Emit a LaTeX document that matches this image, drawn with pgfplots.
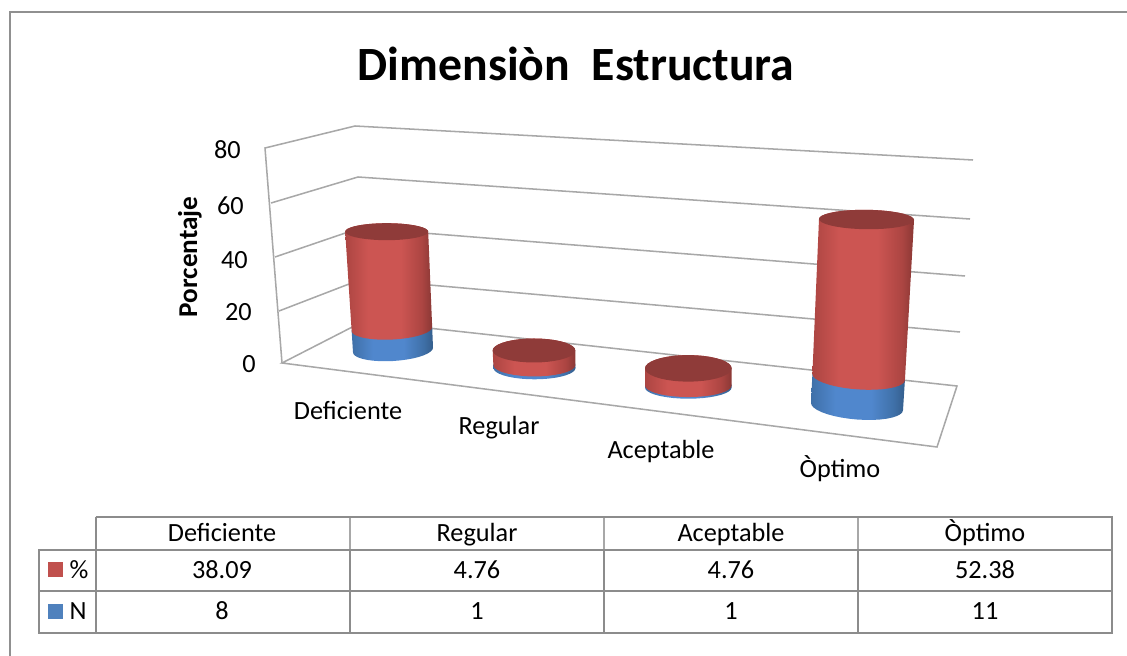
\documentclass[border=0pt]{standalone}
\usepackage{pgfplots}
\usepackage{pgfplotstable}
\usepackage{fontspec}
\pgfplotsset{compat=1.18}
\setmainfont{Carlito}

\definecolor{gridgray}{HTML}{A8A8A8}
\definecolor{rulegray}{HTML}{8C8C8C}
\definecolor{headgray}{HTML}{A8A8A8}
\definecolor{framegray}{HTML}{909090}
\definecolor{redL}{HTML}{AC4542}
\definecolor{redM}{HTML}{CC5552}
\definecolor{redR}{HTML}{8A3835}
\definecolor{redCap}{HTML}{8F3B39}
\definecolor{redKey}{HTML}{C0504D}
\definecolor{bluL}{HTML}{3F70A8}
\definecolor{bluM}{HTML}{5087CD}
\definecolor{bluR}{HTML}{345E8C}
\definecolor{bluKey}{HTML}{4F81BD}

% Wall shading across a cylinder: the path's width spans 25bp to 75bp
\pgfdeclarehorizontalshading{wallred}{100bp}{color(0bp)=(redL); color(25bp)=(redL); color(38bp)=(redM); color(57bp)=(redM); color(69bp)=(redL); color(75bp)=(redR); color(100bp)=(redR)}
\pgfdeclarehorizontalshading{wallblue}{100bp}{color(0bp)=(bluL); color(25bp)=(bluL); color(38bp)=(bluM); color(57bp)=(bluM); color(69bp)=(bluL); color(75bp)=(bluR); color(100bp)=(bluR)}

% Outline of a cylinder section: front arc at the lower level (k=0),
% back arc at the upper level (k=1).
\pgfplotstableread{
u v k
-1.000 0.000 0
-0.985 0.174 0
-0.940 0.342 0
-0.866 0.500 0
-0.766 0.643 0
-0.643 0.766 0
-0.500 0.866 0
-0.342 0.940 0
-0.174 0.985 0
0.000 1.000 0
0.174 0.985 0
0.342 0.940 0
0.500 0.866 0
0.643 0.766 0
0.766 0.643 0
0.866 0.500 0
0.940 0.342 0
0.985 0.174 0
1.000 0.000 0
1.000 0.000 1
0.985 -0.174 1
0.940 -0.342 1
0.866 -0.500 1
0.766 -0.643 1
0.643 -0.766 1
0.500 -0.866 1
0.342 -0.940 1
0.174 -0.985 1
0.000 -1.000 1
-0.174 -0.985 1
-0.342 -0.940 1
-0.500 -0.866 1
-0.643 -0.766 1
-0.766 -0.643 1
-0.866 -0.500 1
-0.940 -0.342 1
-0.985 -0.174 1
-1.000 0.000 1
}\outline

% Projection of a cylinder: base centre, radii, tilt and their change per unit
\newcommand\setbase[5]{\def\Cx{#1}\def\Cy{#2}\def\Rx{#3}\def\Ry{#4}\def\Tilt{#5}}
\newcommand\setrate[6]{\def\Dcx{#1}\def\Drx{#2}\def\Dry{#3}\def\Dtilt{#4}\def\Sn{#5}\def\Sp{#6}}

% One part from value #2 up by #3; #1 are the fill options, #4 is 1 for
% a wall and 0 for a flat cap at the level #2
\newcommand\cylpart[4]{%
  \def\Lev{((#2)+(#3)*(#4)*\thisrow{k})}%
  \addplot[draw=none,#1] table[
    x expr={\Cx+\Dcx*\Lev+(\Rx+\Drx*\Lev)*\thisrow{u}},
    y expr={\Cy-\Sn*min(\Lev,\Nval)-\Sp*max(\Lev-\Nval,0)+(\Ry+\Dry*\Lev)*\thisrow{v}+(\Tilt+\Dtilt*\Lev)*\thisrow{u}}
  ] {\outline};
}
% A stacked cylinder: N below, % above
\newcommand\cylinder[2]{%
  \def\Nval{#1}%
  \cylpart{shading=wallblue}{0}{#1}{1}
  \cylpart{shading=wallred}{#1}{#2}{1}
  \cylpart{fill=redCap}{#1+#2}{0}{0}
}

% Labels share one line box, so they sit level whatever their letters
\tikzset{lab/.style={font=\fontsize{19.7pt}{22pt}\selectfont,text=black,inner sep=0pt,text height=14.6pt,text depth=2pt}}

\begin{document}
\begin{tikzpicture}[x=0.75pt,y=0.75pt]
\path[use as bounding box] (0,0) rectangle (1127,656);
\begin{axis}[
  at={(0,0)},anchor=south west,
  scale only axis,width=845.25pt,height=492pt,
  xmin=0,xmax=1127,ymin=0,ymax=656,y dir=reverse,
  hide axis,clip=false,
]
% outer frame
\addplot[framegray,line width=1.4pt] coordinates {(10,656) (10,12) (1127,12)};

% walls and floor
\addplot[gridgray,line width=1.15pt] coordinates {(282,363) (265,148) (355,126) (973,160)};
\addplot[gridgray,line width=1.15pt] coordinates {(271,203) (358,177) (970,219)};
\addplot[gridgray,line width=1.15pt] coordinates {(275,257) (360,228) (965,276)};
\addplot[gridgray,line width=1.15pt] coordinates {(279,311) (362,279) (960,332)};
\addplot[gridgray,line width=1.15pt] coordinates {(364,321) (957,386) (937,447) (282,363) (364,321)};

% cylinders
\setbase{393}{350}{40}{11}{-2.3}\setrate{-0.137}{0.0325}{-0.054}{0.05}{2.625}{2.555}
\cylinder{8}{38.09}
\setbase{534.5}{368}{41}{11.3}{0}\setrate{-0.09}{0.05}{0.12}{0}{3}{3.05}
\cylinder{1}{4.76}
\setbase{688.3}{387.5}{43.3}{11.2}{0}\setrate{0}{0}{0.36}{0}{2}{3.6}
\cylinder{1}{4.76}
\setbase{857}{406.5}{46}{13}{3.5}\setrate{0.15}{0.0237}{-0.052}{-0.047}{2.68}{3.007}
\cylinder{11}{52.38}

% value scale
\node[lab,anchor=east] at (axis cs:241,150) {80};
\node[lab,anchor=east] at (axis cs:244,206) {60};
\node[lab,anchor=east] at (axis cs:248,260) {40};
\node[lab,anchor=east] at (axis cs:252,312) {20};
\node[lab,anchor=east] at (axis cs:256,364) {0};
\node[rotate=90,inner sep=0pt,font=\fontsize{20.4pt}{22pt}\selectfont\bfseries] at (axis cs:190,257) {Porcentaje};

% category names on the floor
\node[lab] at (axis cs:348,411) {Deficiente};
\node[lab] at (axis cs:499,426) {Regular};
\node[lab] at (axis cs:661,450) {Aceptable};
\node[lab] at (axis cs:840,469) {Òptimo};

% title
\node[inner sep=0pt,font=\fontsize{35.8pt}{38pt}\selectfont\bfseries] at (axis cs:576,64) {Dimensiòn\ \ Estructura};

% data table rules
\addplot[headgray,line width=1.3pt] coordinates {(349.7,516.7) (349.7,549.7)};
\addplot[headgray,line width=1.3pt] coordinates {(603.9,516.7) (603.9,549.7)};
\addplot[headgray,line width=1.3pt] coordinates {(857.9,516.7) (857.9,549.7)};
\addplot[rulegray,line width=1.3pt] coordinates {(95.7,516.7) (1112,516.7) (1112,632.7) (39.3,632.7) (39.3,549.7) (1112,549.7)};
\addplot[rulegray,line width=1.3pt] coordinates {(39.3,590.7) (1112,590.7)};
\addplot[rulegray,line width=1.3pt] coordinates {(95.7,516.7) (95.7,632.7)};
\addplot[rulegray,line width=1.3pt] coordinates {(349.7,549.7) (349.7,632.7)};
\addplot[rulegray,line width=1.3pt] coordinates {(603.9,549.7) (603.9,632.7)};
\addplot[rulegray,line width=1.3pt] coordinates {(857.9,549.7) (857.9,632.7)};

% legend keys
\addplot[fill=redKey,draw=none] coordinates {(48,562) (63,562) (63,577) (48,577)};
\addplot[fill=bluKey,draw=none] coordinates {(48,604) (63,604) (63,618.7) (48,618.7)};
\node[lab] at (axis cs:79,570) {\%};
\node[lab] at (axis cs:78,611) {N};

% table cells
\node[lab] at (axis cs:222,533) {Deficiente};
\node[lab] at (axis cs:477,533) {Regular};
\node[lab] at (axis cs:731,533) {Aceptable};
\node[lab] at (axis cs:985,533) {Òptimo};
\node[lab] at (axis cs:222,570) {38.09};
\node[lab] at (axis cs:477,570) {4.76};
\node[lab] at (axis cs:731,570) {4.76};
\node[lab] at (axis cs:985,570) {52.38};
\node[lab] at (axis cs:222,611) {8};
\node[lab] at (axis cs:477,611) {1};
\node[lab] at (axis cs:731,611) {1};
\node[lab] at (axis cs:985,611) {11};
\end{axis}
\end{tikzpicture}
\end{document}
